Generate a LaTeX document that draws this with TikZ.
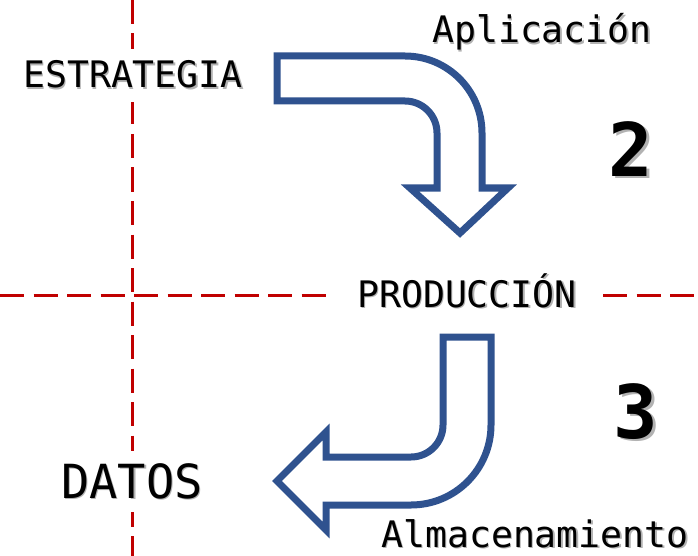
\documentclass[tikz,border=0pt]{standalone}
\usepackage{fontspec}
\setmainfont{DejaVu Sans Mono}
\usepackage{xcolor}
\definecolor{cutred}{HTML}{C00000}
\definecolor{arrblue}{HTML}{2F528F}
\newcommand{\shtxt}[2][1.2pt]{%
  \makebox[0pt][l]{\kern#1\raisebox{-#1}{\textcolor{black!30}{#2}}}#2}

\begin{document}
\begin{tikzpicture}[
    x=1pt, y=-1pt,
    cut/.style={cutred, line width=3pt, dash pattern=on 24pt off 9.5pt},
    barr/.style={draw=arrblue, line width=7pt, fill=white, line join=miter},
    lbl/.style={anchor=base, inner sep=3pt, fill=white,
                font=\fontsize{36.5}{40}\selectfont},
    biglbl/.style={lbl, inner xsep=6pt, inner ysep=12pt,
                   font=\fontsize{47}{52}\selectfont},
    numl/.style={anchor=base, inner sep=0pt,
                 font=\fontsize{74}{80}\selectfont\bfseries}
  ]
  \useasboundingbox (0,0) rectangle (698,556);

  %% ── Cutting lines ──
  \draw[cut] (132,0) -- (132,556);
  \draw[cut] (0,295) -- (698,295);

  %% ── Levels ──
  \node[lbl, inner ysep=12pt] (estrategia) at (133,88) {\shtxt{ESTRATEGIA}};
  \node[lbl, inner xsep=24pt, inner ysep=6pt] (produccion) at (467,307) {\shtxt{PRODUCCIÓN}};
  \node[biglbl] (datos) at (132,498) {\shtxt{DATOS}};

  %% ── Step 2: bent arrow down ──
  \draw[barr] (277,56) -- (405,56) arc[start angle=-90, end angle=0, radius=77]
    -- (482,188) -- (508,188) -- (460,233) -- (410,188) -- (437,188)
    -- (437,133) arc[start angle=0, end angle=-90, radius=32]
    -- (277,101) -- cycle;
  \node[lbl] (aplicacion) at (542,43) {\shtxt{Aplicación}};
  \node[numl] (num2) at (631,176) {\shtxt[2.5pt]{2}};

  %% ── Step 3: bent arrow left ──
  \draw[barr] (443,337) -- (491,337)
    -- (491,425) arc[start angle=0, end angle=90, radius=80]
    -- (326,505) -- (326,530) -- (277,481) -- (326,432) -- (326,457)
    -- (411,457) arc[start angle=90, end angle=0, radius=32] -- cycle;
  \node[lbl] (almac) at (535,547) {\shtxt{Almacenamiento}};
  \node[numl] (num3) at (636,438) {\shtxt[2.5pt]{3}};

\end{tikzpicture}
\end{document}
